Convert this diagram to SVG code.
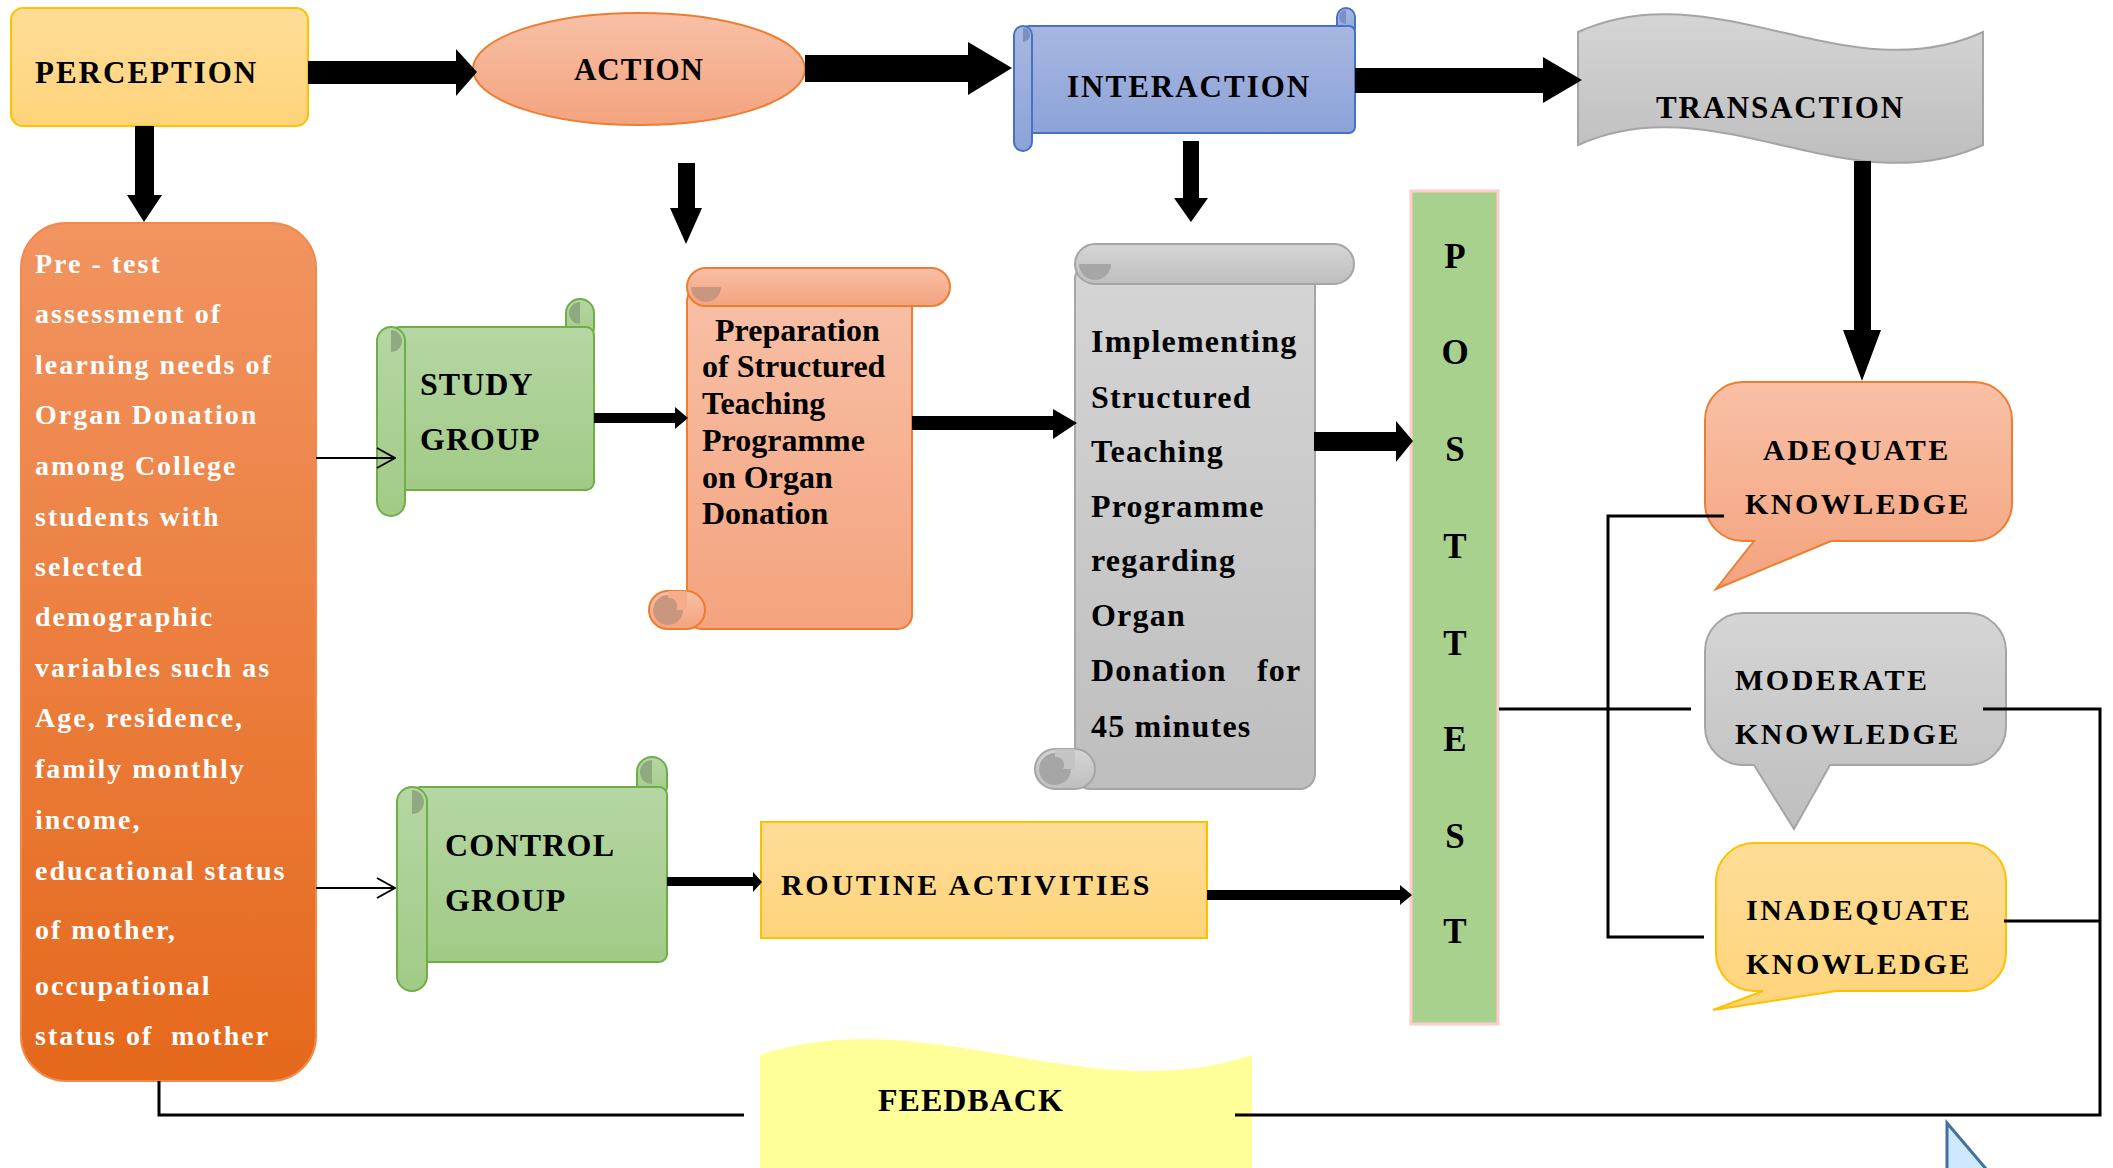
<svg xmlns="http://www.w3.org/2000/svg" width="2113" height="1168" viewBox="0 0 2113 1168">
<defs>
<linearGradient id="gOrL" x1="0" y1="0" x2="0" y2="1"><stop offset="0" stop-color="#F8C0A6"/><stop offset="1" stop-color="#F4A37E"/></linearGradient>
<linearGradient id="gYel" x1="0" y1="0" x2="0" y2="1"><stop offset="0" stop-color="#FFDC98"/><stop offset="1" stop-color="#FFD47A"/></linearGradient>
<linearGradient id="gBlu" x1="0" y1="0" x2="0" y2="1"><stop offset="0" stop-color="#A8B7E1"/><stop offset="1" stop-color="#8CA3D8"/></linearGradient>
<linearGradient id="gGry" x1="0" y1="0" x2="0" y2="1"><stop offset="0" stop-color="#D5D5D5"/><stop offset="1" stop-color="#BEBEBE"/></linearGradient>
<linearGradient id="gGrn" x1="0" y1="0" x2="0" y2="1"><stop offset="0" stop-color="#B5D7A4"/><stop offset="1" stop-color="#A1CA86"/></linearGradient>
<linearGradient id="gOrg" x1="0" y1="0" x2="0" y2="1"><stop offset="0" stop-color="#F29461"/><stop offset="1" stop-color="#E5681B"/></linearGradient>
<marker id="open" viewBox="0 0 20 22" refX="19" refY="11" markerWidth="20" markerHeight="22" markerUnits="userSpaceOnUse" orient="auto"><path d="M1 1 L19 11 L1 21" fill="none" stroke="#000" stroke-width="2"/></marker>
<style>
.t{font-family:"Liberation Serif","Times New Roman",serif;font-weight:bold;fill:#000}
.w{font-family:"Liberation Serif","Times New Roman",serif;font-weight:bold;fill:#fff;font-size:28px;letter-spacing:2px}
.top{font-size:31px}
.grn{fill:url(#gGrn);stroke:#70AD47;stroke-width:2}
.grnD{fill:#8FAA80}
.blu{fill:url(#gBlu);stroke:#4472C4;stroke-width:2}
.bluD{fill:#7C8FC2}
.orl{fill:url(#gOrL);stroke:#ED7D31;stroke-width:2}
.orlD{fill:#C9977F}
.gry{fill:url(#gGry);stroke:#A5A5A5;stroke-width:2}
.gryD{fill:#A6A6A6}
.yel{fill:url(#gYel);stroke:#FFC000;stroke-width:2}
.blk{fill:#000}
.ln{fill:none;stroke:#000;stroke-width:3}
.thin{fill:none;stroke:#000;stroke-width:2}
</style>
</defs>
<rect width="2113" height="1168" fill="#fff"/>

<g id="perception">
<rect x="11" y="8" width="297" height="118" rx="12" class="yel"/>
<text x="35" y="83" class="t top" letter-spacing="2">PERCEPTION</text>
</g>

<g id="action">
<ellipse cx="639" cy="69" rx="166" ry="56" class="orl"/>
<text x="639" y="80" class="t top" text-anchor="middle" letter-spacing="1">ACTION</text>
</g>

<g id="interaction">
<rect x="1337" y="8" width="18" height="30" rx="9" class="blu"/>
<path d="M1346 10 A7 7 0 0 0 1346 24 Z" class="bluD"/>
<rect x="1023" y="26" width="332" height="107" rx="6" class="blu"/>
<rect x="1014" y="26" width="18" height="125" rx="9" class="blu"/>
<path d="M1023 28 A7 7 0 0 1 1023 42 Z" class="bluD"/>
<text x="1067" y="97" class="t top" letter-spacing="2">INTERACTION</text>
</g>

<g id="transaction">
<path d="M1578 32 C1713 -30 1848 94 1983 32 L1983 145 C1848 207 1713 83 1578 145 Z" fill="url(#gGry)" stroke="#A5A5A5" stroke-width="2"/>
<text x="1656" y="118" class="t top" letter-spacing="1.8">TRANSACTION</text>
</g>

<g id="pretest">
<rect x="21" y="223" width="295" height="858" rx="45" fill="url(#gOrg)" stroke="#F08A4B" stroke-width="2"/>
<text class="w">
<tspan x="35" y="273">Pre - test</tspan>
<tspan x="35" y="323">assessment of</tspan>
<tspan x="35" y="374">learning needs of</tspan>
<tspan x="35" y="424">Organ Donation</tspan>
<tspan x="35" y="475">among College</tspan>
<tspan x="35" y="526">students with</tspan>
<tspan x="35" y="576">selected</tspan>
<tspan x="35" y="626">demographic</tspan>
<tspan x="35" y="677">variables such as</tspan>
<tspan x="35" y="727">Age, residence,</tspan>
<tspan x="35" y="778">family monthly</tspan>
<tspan x="35" y="829">income,</tspan>
<tspan x="35" y="880">educational status</tspan>
<tspan x="35" y="939">of mother,</tspan>
<tspan x="35" y="995">occupational</tspan>
<tspan x="35" y="1045">status of</tspan><tspan x="171" y="1045">mother</tspan>
</text>
</g>

<g id="study-group">
<rect x="566" y="299" width="28" height="42" rx="14" class="grn"/>
<path d="M580 302 A11 11 0 0 0 580 324 Z" class="grnD"/>
<rect x="391" y="327" width="203" height="163" rx="8" class="grn"/>
<rect x="377" y="327" width="28" height="189" rx="14" class="grn"/>
<path d="M391 330 A11 11 0 0 1 391 352 Z" class="grnD"/>
<text class="t" font-size="32" letter-spacing="1"><tspan x="420" y="395">STUDY</tspan><tspan x="420" y="450">GROUP</tspan></text>
</g>

<g id="control-group">
<rect x="637" y="757" width="30" height="44" rx="15" class="grn"/>
<path d="M652 760 A12 12 0 0 0 652 784 Z" class="grnD"/>
<rect x="412" y="787" width="255" height="175" rx="8" class="grn"/>
<rect x="397" y="787" width="30" height="204" rx="15" class="grn"/>
<path d="M412 790 A12 12 0 0 1 412 814 Z" class="grnD"/>
<text class="t" font-size="32" letter-spacing="1.2"><tspan x="445" y="856">CONTROL</tspan><tspan x="445" y="911">GROUP</tspan></text>
</g>

<g id="preparation">
<rect x="687" y="287" width="225" height="342" rx="14" class="orl"/>
<rect x="687" y="268" width="263" height="38" rx="19" class="orl"/>
<path d="M691 287 A15 15 0 0 0 721 287 Z" class="orlD"/>
<rect x="649" y="591" width="56" height="38" rx="19" class="orl"/>
<circle cx="668" cy="610" r="15" class="orlD"/>
<path d="M668 591 H687 V610 H676 A8 8 0 0 0 668 598 Z" fill="#F5AE8D"/>
<text class="t" font-size="32">
<tspan x="715" y="341">Preparation</tspan>
<tspan x="702" y="377">of Structured</tspan>
<tspan x="702" y="414">Teaching</tspan>
<tspan x="702" y="451">Programme</tspan>
<tspan x="702" y="488">on Organ</tspan>
<tspan x="702" y="524">Donation</tspan>
</text>
</g>

<g id="implementing">
<rect x="1075" y="264" width="240" height="525" rx="15" class="gry"/>
<rect x="1075" y="244" width="279" height="40" rx="20" class="gry"/>
<path d="M1079 264 A16 16 0 0 0 1111 264 Z" class="gryD"/>
<rect x="1035" y="749" width="60" height="40" rx="20" class="gry"/>
<circle cx="1055" cy="769" r="16" class="gryD"/>
<path d="M1055 749 H1075 V769 H1063 A8 8 0 0 0 1055 757 Z" fill="#C4C4C4"/>
<text class="t" font-size="32" letter-spacing="1.2">
<tspan x="1091" y="352">Implementing</tspan>
<tspan x="1091" y="408">Structured</tspan>
<tspan x="1091" y="462">Teaching</tspan>
<tspan x="1091" y="517">Programme</tspan>
<tspan x="1091" y="571">regarding</tspan>
<tspan x="1091" y="626">Organ</tspan>
<tspan x="1091" y="681">Donation</tspan>
<tspan x="1257" y="681">for</tspan>
<tspan x="1091" y="737">45 minutes</tspan>
</text>
</g>

<g id="routine">
<rect x="761" y="822" width="446" height="116" class="yel"/>
<text x="781" y="895" class="t" font-size="30" letter-spacing="2.7">ROUTINE ACTIVITIES</text>
</g>

<g id="posttest">
<rect x="1411" y="191" width="87" height="833" fill="#A9D18E" stroke="#FFCCCC" stroke-width="3"/>
<g class="t" font-size="35" text-anchor="middle">
<text x="1455" y="268">P</text>
<text x="1455" y="364">O</text>
<text x="1455" y="461">S</text>
<text x="1455" y="558">T</text>
<text x="1455" y="655">T</text>
<text x="1455" y="751">E</text>
<text x="1455" y="848">S</text>
<text x="1455" y="943">T</text>
</g>
</g>

<g id="adequate">
<path d="M1743 382 H1974 A38 38 0 0 1 2012 420 V503 A38 38 0 0 1 1974 541 H1831 L1716 589 L1754 541 H1743 A38 38 0 0 1 1705 503 V420 A38 38 0 0 1 1743 382 Z" class="orl"/>
<text class="t" font-size="30" letter-spacing="2.5"><tspan x="1763" y="460">ADEQUATE</tspan><tspan x="1745" y="514">KNOWLEDGE</tspan></text>
</g>

<g id="moderate">
<path d="M1743 613 H1968 A38 38 0 0 1 2006 651 V727 A38 38 0 0 1 1968 765 H1830 L1794 829 L1754 765 H1743 A38 38 0 0 1 1705 727 V651 A38 38 0 0 1 1743 613 Z" class="gry"/>
<text class="t" font-size="30" letter-spacing="2.5"><tspan x="1735" y="690">MODERATE</tspan><tspan x="1735" y="744">KNOWLEDGE</tspan></text>
</g>

<g id="inadequate">
<path d="M1754 843 H1968 A38 38 0 0 1 2006 881 V953 A38 38 0 0 1 1968 991 H1836 L1713 1010 L1763 991 H1754 A38 38 0 0 1 1716 953 V881 A38 38 0 0 1 1754 843 Z" class="yel"/>
<text class="t" font-size="30" letter-spacing="2.5"><tspan x="1746" y="920">INADEQUATE</tspan><tspan x="1746" y="974">KNOWLEDGE</tspan></text>
</g>

<g id="feedback">
<path d="M760 1055 C924 1000 1088 1110 1252 1055 L1252 1175 L760 1175 Z" fill="#FFFF99"/>
<text x="878" y="1111" class="t" font-size="32" letter-spacing="1">FEEDBACK</text>
</g>

<g id="corner-shape">
<path d="M1947 1123 L1987 1170 L1947 1170 Z" fill="#CFE8FF" stroke="#41719C" stroke-width="3"/>
</g>

<g id="connectors">
<polygon class="blk" points="308,61 456,61 456,49 477,72 456,96 456,84 308,84"/>
<polygon class="blk" points="805,55 968,55 968,42 1012,68 968,95 968,82 805,82"/>
<polygon class="blk" points="1355,68 1543,68 1543,57 1582,80 1543,103 1543,93 1355,93"/>
<polygon class="blk" points="135,126 154,126 154,195 162,195 144,222 127,195 135,195"/>
<polygon class="blk" points="678,163 695,163 695,208 702,208 686,244 670,208 678,208"/>
<polygon class="blk" points="1183,141 1199,141 1199,198 1208,198 1191,222 1174,198 1183,198"/>
<polygon class="blk" points="1854,161 1871,161 1871,330 1881,330 1862,381 1843,330 1854,330"/>
<polygon class="blk" points="594,413 675,413 675,407 688,418 675,429 675,423 594,423"/>
<polygon class="blk" points="912,416 1053,416 1053,409 1077,423 1053,439 1053,430 912,430"/>
<polygon class="blk" points="1314,432 1396,432 1396,421 1413,441 1396,462 1396,451 1314,451"/>
<polygon class="blk" points="667,877 753,877 753,872 762,882 753,892 753,886 667,886"/>
<polygon class="blk" points="1207,890 1400,890 1400,885 1412,895 1400,905 1400,900 1207,900"/>
<line class="thin" x1="316" y1="458" x2="395" y2="458" marker-end="url(#open)"/>
<line class="thin" x1="316" y1="888" x2="395" y2="888" marker-end="url(#open)"/>
<path class="ln" d="M1499 709 H1691"/>
<path class="ln" d="M1724 516 H1608 V937 H1704"/>
<path class="ln" d="M1983 709 H2100 V1115 H1235"/>
<path class="ln" d="M2004 921 H2100"/>
<path class="ln" d="M744 1115 H159 V1081"/>
</g>
</svg>
